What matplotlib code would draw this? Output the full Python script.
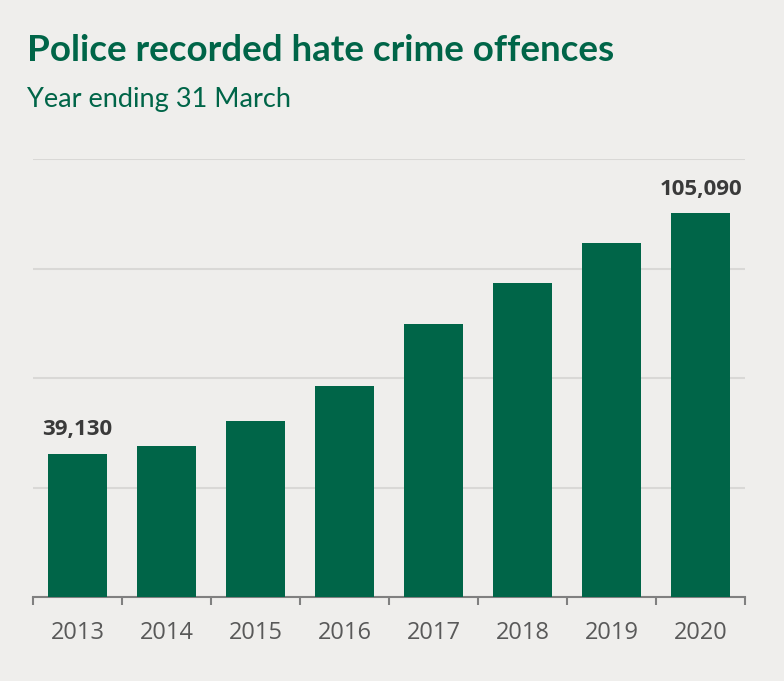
import matplotlib.pyplot as plt

years = ["2013", "2014", "2015", "2016", "2017", "2018", "2019", "2020"]
offences = [39130, 41300, 48300, 57800, 74700, 85900, 97000, 105090]
labelled = {0: "39,130", 7: "105,090"}

bg = "#efeeec"
green = "#006548"

plt.rcParams["font.family"] = ["Lato", "DejaVu Sans"]

fig = plt.figure(figsize=(7.84, 6.81), dpi=100, facecolor=bg)
ax = fig.add_axes([0.0421, 0.1233, 0.9082, 0.6432])
ax.set_facecolor(bg)

x = list(range(len(years)))
ax.bar(x, offences, width=0.67, color=green, zorder=3)

for i, txt in labelled.items():
    ax.text(x[i], offences[i] + 3800, txt, ha="center", va="bottom",
            fontsize=16, fontweight="bold", color="#3a3a3a",
            family=["Open Sans", "DejaVu Sans"])

ax.set_xlim(-0.5, len(years) - 0.5)
ax.set_ylim(0, 120000)
ax.set_yticks([0, 30000, 60000, 90000, 120000])
ax.yaxis.grid(True, color="#d9d8d6", linewidth=1.5, zorder=0)
ax.tick_params(axis="y", length=0, labelleft=False)

ax.set_xticks([i - 0.5 for i in range(len(years) + 1)])
ax.set_xticklabels([])
ax.set_xticks(x, minor=True)
ax.set_xticklabels(years, minor=True, family=["Open Sans", "DejaVu Sans"])
ax.tick_params(axis="x", which="major", length=6, width=1.5, color="#808080")
ax.tick_params(axis="x", which="minor", length=0, pad=17,
               labelsize=17, labelcolor="#595959")

for s in ["top", "right", "left"]:
    ax.spines[s].set_visible(False)
ax.spines["bottom"].set_color("#808080")
ax.spines["bottom"].set_linewidth(1.5)

fig.text(0.034, 0.91, "Police recorded hate crime offences", fontsize=26.5,
         fontweight="bold", color=green, va="baseline")
fig.text(0.034, 0.843, "Year ending 31 March", fontsize=19.5, color=green,
         va="baseline")

fig.savefig("out.png", dpi=100, facecolor=bg)
